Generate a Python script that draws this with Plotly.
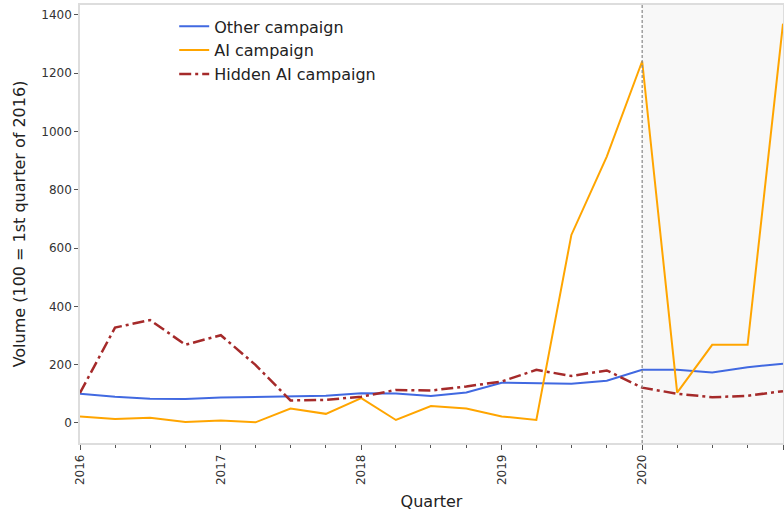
import plotly.graph_objects as go

quarters = [f"{y}-{m:02d}-01" for y in range(2016, 2021) for m in (1, 4, 7, 10)] + ["2021-01-01"]

other_campaign = [100, 90, 83, 82, 87, 89, 90, 93, 102, 101, 92, 104, 138, 137, 134, 145, 182, 182, 173, 191, 203]
ai_campaign = [22, 13, 18, 3, 8, 2, 49, 31, 85, 10, 58, 49, 22, 10, 645, 914, 1241, 104, 268, 268, 1370]
hidden_ai_campaign = [103, 327, 353, 268, 301, 199, 77, 79, 90, 113, 111, 125, 142, 182, 161, 180, 121, 100, 88, 93, 109]

year_ticks = ["2016-01-01", "2017-01-01", "2018-01-01", "2019-01-01", "2020-01-01", "2021-01-01"]
year_labels = ["2016", "2017", "2018", "2019", "2020", "2021"]

fig = go.Figure()
fig.add_trace(go.Scatter(x=quarters, y=other_campaign, mode="lines", name="Other campaign",
                         line=dict(color="#4169E1", width=2)))
fig.add_trace(go.Scatter(x=quarters, y=ai_campaign, mode="lines", name="AI campaign",
                         line=dict(color="#FFA500", width=2)))
fig.add_trace(go.Scatter(x=quarters, y=hidden_ai_campaign, mode="lines", name="Hidden AI campaign",
                         line=dict(color="#A52A2A", width=2.5, dash="12px,4px,3px,4px")))

fig.add_shape(type="rect", xref="x", yref="paper", x0="2020-01-01", x1="2021-01-01", y0=0, y1=1,
              fillcolor="#f8f8f8", line=dict(width=0), layer="below")
fig.add_shape(type="line", xref="x", yref="paper", x0="2020-01-01", x1="2020-01-01", y0=0, y1=1,
              line=dict(color="#888888", width=1.2, dash="3px,2px"))

fig.update_layout(
    width=784, height=511,
    margin=dict(l=80, r=1, t=5, b=68),
    paper_bgcolor="white", plot_bgcolor="white",
    font=dict(family="DejaVu Sans", size=16, color="#222222"),
    showlegend=True,
    legend=dict(x=0.134, y=0.99, xanchor="left", yanchor="top", bgcolor="rgba(0,0,0,0)",
                font=dict(size=16), tracegroupgap=0, itemwidth=30),
    xaxis=dict(
        type="date", range=["2016-01-01", "2021-01-01"],
        tickmode="array", tickvals=year_ticks, ticktext=year_labels, tickangle=-90,
        tickfont=dict(size=12, color="#333333"),
        ticks="outside", ticklen=5, tickcolor="#555555",
        minor=dict(dtick="M3", tick0="2016-01-01", ticks="outside", ticklen=3, tickcolor="#555555", showgrid=False),
        showgrid=False, zeroline=False, automargin=False,
        showline=True, linecolor="#dddddd", linewidth=1.5, mirror=True,
        title=dict(text="Quarter", font=dict(size=16), standoff=12),
    ),
    yaxis=dict(
        range=[-69, 1434],
        tickvals=[0, 200, 400, 600, 800, 1000, 1200, 1400],
        tickfont=dict(size=12, color="#333333"),
        ticks="outside", ticklen=4, tickcolor="#555555",
        showgrid=False, zeroline=False, automargin=False,
        showline=True, linecolor="#dddddd", linewidth=1.5, mirror=True,
        title=dict(text="Volume (100 = 1st quarter of 2016)", font=dict(size=16), standoff=12),
    ),
)

fig.write_html("out.html", config={"displayModeBar": False},
               post_script="document.body.style.margin='0px';document.body.style.overflow='hidden';")
